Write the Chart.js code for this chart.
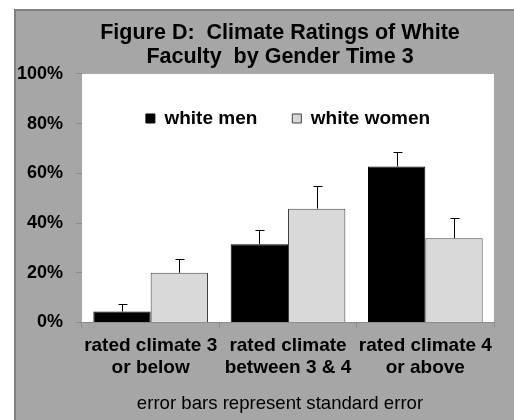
<!DOCTYPE html>
<html>
<head>
<meta charset="utf-8">
<script src="https://cdn.jsdelivr.net/npm/chart.js@4/dist/chart.umd.min.js"></script>
<style>
  html, body { margin: 0; padding: 0; background: #fff; overflow: hidden; }
  #wrap {
    position: absolute; left: 14px; top: 9px;
    width: 498px; height: 409px;
    background: #a6a6a6;
    border-left: 2px solid #808080;
    border-top: 2px solid #808080;
    overflow: hidden;
  }
  #chart { display: block; }
</style>
</head>
<body>
<div id="wrap"><canvas id="chart" width="528" height="409"></canvas></div>
<script>
// 데이터
const categories = [['rated climate 3', 'or below'], ['rated climate', 'between 3 & 4'], ['rated climate 4', 'or above']];
const menValues = [4.4, 31.5, 62.8];
const womenValues = [20.0, 45.8, 33.9];
const menErrors = [3.0, 5.7, 5.6];
const womenErrors = [5.5, 9.1, 8.3];
const seriesErrors = [menErrors, womenErrors];
const titleLines = ['Figure D:  Climate Ratings of White', 'Faculty  by Gender Time 3'];
const footNote = 'error bars represent standard error';

const FONT = "'Liberation Sans', Arial, sans-serif";

// 플롯 영역 흰 배경
const plotBg = {
  id: 'plotBg',
  beforeDraw(chart) {
    const { ctx, chartArea: a } = chart;
    ctx.save();
    ctx.fillStyle = '#fff';
    ctx.fillRect(a.left, a.top, a.right - a.left, a.bottom - a.top);
    ctx.restore();
  },
};

// 범례는 플롯 안에 겹쳐 그림 (레이아웃 높이 0, 그릴 때만 영역 확장)
const legendInside = {
  id: 'legendInside',
  beforeLayout(chart) {
    const lg = chart.legend;
    if (!lg || lg._inside) return;
    const fit = lg.fit;
    lg.fit = function () {
      fit.call(this);
      this.height = 0;
    };
    lg._inside = true;
  },
  afterLayout(chart) {
    const lg = chart.legend;
    if (!lg) return;
    lg.height = 80;
    lg.bottom = lg.top + 80;
  },
};

// 표준오차 막대 (위쪽만)
const errorBars = {
  id: 'errorBars',
  afterDatasetsDraw(chart) {
    const { ctx } = chart;
    const y = chart.scales.y;
    ctx.save();
    ctx.strokeStyle = '#000';
    ctx.lineWidth = 1;
    chart.data.datasets.forEach((ds, i) => {
      chart.getDatasetMeta(i).data.forEach((bar, j) => {
        const top = Math.round(y.getPixelForValue(ds.data[j] + seriesErrors[i][j])) + 0.5;
        const x = Math.round(bar.x) + 0.5;
        ctx.beginPath();
        ctx.moveTo(x, bar.y);
        ctx.lineTo(x, top);
        ctx.moveTo(x - 4, top);
        ctx.lineTo(x + 5, top);
        ctx.stroke();
      });
    });
    ctx.restore();
  },
};

new Chart(document.getElementById('chart'), {
  type: 'bar',
  data: {
    labels: categories,
    datasets: [
      {
        label: 'white men',
        data: menValues,
        backgroundColor: '#000',
        borderColor: '#000',
        borderWidth: 1,
      },
      {
        label: 'white women',
        data: womenValues,
        backgroundColor: '#d9d9d9',
        borderColor: '#404040',
        borderWidth: 1,
      },
    ],
  },
  options: {
    responsive: false,
    animation: false,
    devicePixelRatio: 1,
    categoryPercentage: 0.835,
    barPercentage: 1.0,
    layout: { padding: 0 },
    plugins: {
      title: {
        display: true,
        text: titleLines,
        color: '#000',
        font: { family: FONT, size: 21.5, weight: 'bold', lineHeight: 1.116 },
        padding: { top: 10, bottom: 5 },
      },
      subtitle: {
        display: true,
        position: 'bottom',
        text: footNote,
        color: '#000',
        font: { family: FONT, size: 18.6, weight: 'normal', lineHeight: 1.16 },
        padding: { top: 0, bottom: 5 },
      },
      legend: {
        position: 'top',
        fullSize: false,
        align: 'center',
        labels: {
          boxWidth: 9,
          boxHeight: 9,
          padding: 35,
          color: '#000',
          font: { family: FONT, size: 19, weight: 'bold' },
        },
      },
      tooltip: { enabled: false },
    },
    scales: {
      x: {
        grid: { drawOnChartArea: false, tickLength: 5, color: '#8c8c8c', offset: true },
        border: { display: true, color: '#8c8c8c', width: 1 },
        ticks: {
          color: '#000',
          padding: 8,
          maxRotation: 0,
          autoSkip: false,
          font: { family: FONT, size: 19, weight: 'bold', lineHeight: 1.14 },
        },
        afterFit(scale) { scale.height = 71; },
      },
      y: {
        min: 0,
        max: 100,
        grid: { drawOnChartArea: false, tickLength: 6, color: '#8c8c8c' },
        border: { display: false },
        ticks: {
          stepSize: 20,
          padding: 13,
          color: '#000',
          font: { family: FONT, size: 18, weight: 'bold' },
          callback: (v) => v + '%',
        },
        afterFit(scale) { scale.width = 66; },
      },
      // 오른쪽 빈 여백 (제목 중심 맞춤용)
      yRight: {
        axis: 'y',
        type: 'linear',
        position: 'right',
        display: true,
        grid: { display: false, drawTicks: false },
        border: { display: false },
        ticks: { display: false },
        afterFit(scale) { scale.width = 50; },
      },
    },
  },
  plugins: [plotBg, legendInside, errorBars],
});
</script>
</body>
</html>
